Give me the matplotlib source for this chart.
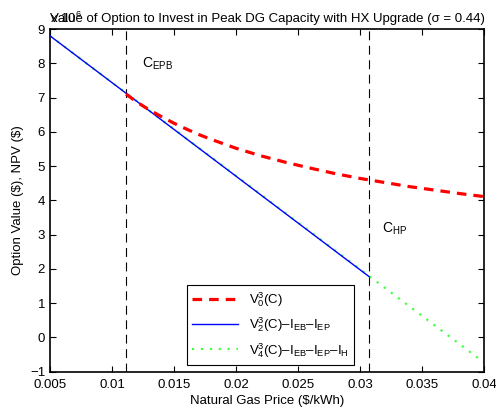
import matplotlib
matplotlib.use("Agg")
import matplotlib.pyplot as plt
from matplotlib.ticker import FuncFormatter

plt.rcParams['font.family'] = ['Liberation Sans', 'DejaVu Sans']
plt.rcParams['mathtext.fontset'] = 'custom'
plt.rcParams['mathtext.rm'] = 'Liberation Sans'
plt.rcParams['mathtext.it'] = 'Liberation Sans'
plt.rcParams['mathtext.default'] = 'regular'

# gas price ($/kWh) and values in units of 1e6 $
c_epb = 0.01113
c_hp = 0.03075

price_v0 = [0.01113, 0.012, 0.013, 0.014, 0.015, 0.016, 0.017, 0.018, 0.019, 0.020,
            0.022, 0.024, 0.026, 0.028, 0.030, 0.032, 0.034, 0.036, 0.038, 0.040]
v0 = [7.10, 6.87, 6.64, 6.44, 6.25, 6.08, 5.92, 5.78, 5.65, 5.52,
      5.30, 5.11, 4.94, 4.78, 4.64, 4.52, 4.40, 4.30, 4.20, 4.11]

price_v2 = [0.005, c_hp]
v2 = [8.80, 1.77]

price_v4 = [0.005, 0.040]
v4 = [8.80, -0.73]

xticks = [0.005, 0.01, 0.015, 0.02, 0.025, 0.03, 0.035, 0.04]
yticks = [-1, 0, 1, 2, 3, 4, 5, 6, 7, 8, 9]

fig = plt.figure(figsize=(4.96, 4.12), dpi=100)
ax = fig.add_axes([0.1008, 0.0978, 0.875, 0.8318])

ax.plot(price_v4, v4, color='#44ff44', linestyle=(0, (1, 3)), linewidth=1.6,
        label=r'$V_4^3(C)$–$I_{EB}$–$I_{EP}$–$I_H$', zorder=2)
ax.plot(price_v2, v2, color='blue', linewidth=1.0,
        label=r'$V_2^3(C)$–$I_{EB}$–$I_{EP}$', zorder=3)
ax.plot(price_v0, v0, color='red', linestyle=(0, (3, 2.2)), linewidth=2.3,
        label=r'$V_0^3(C)$', zorder=4)

for c in (c_epb, c_hp):
    ax.axvline(c, color='black', linestyle=(0, (8, 5)), linewidth=0.8, zorder=1)

ax.text(0.0124, 7.88, r'$C_{EPB}$', fontsize=10)
ax.text(0.03175, 3.07, r'$C_{HP}$', fontsize=10)

ax.set_xlim(0.005, 0.04)
ax.set_ylim(-1, 9)
ax.set_xticks(xticks)
ax.set_yticks(yticks)
ax.xaxis.set_major_formatter(FuncFormatter(lambda v, p: '%g' % v))
ax.tick_params(direction='in', top=True, right=True, labelsize=9.5, length=4, width=0.8)
ax.tick_params(axis='x', pad=5)
for s in ax.spines.values():
    s.set_linewidth(1.2)

ax.set_xlabel(r'Natural Gas Price (\$/kWh)', fontsize=9.5, labelpad=3)
ax.set_ylabel(r'Option Value (\$), NPV (\$)', fontsize=9.5)
ax.set_title('Value of Option to Invest in Peak DG Capacity with HX Upgrade (σ = 0.44)',
             fontsize=9.5, pad=5)
fig.text(0.1, 0.945, r'x 10$^6$', fontsize=9.5)

h, l = ax.get_legend_handles_labels()
leg = ax.legend(h[::-1], l[::-1], loc='lower left', bbox_to_anchor=(0.315, 0.02),
                fontsize=9.5, fancybox=False, edgecolor='black', framealpha=1,
                borderaxespad=0, handlelength=3.5)
leg.get_frame().set_linewidth(0.8)

fig.savefig('out.png', dpi=100)
